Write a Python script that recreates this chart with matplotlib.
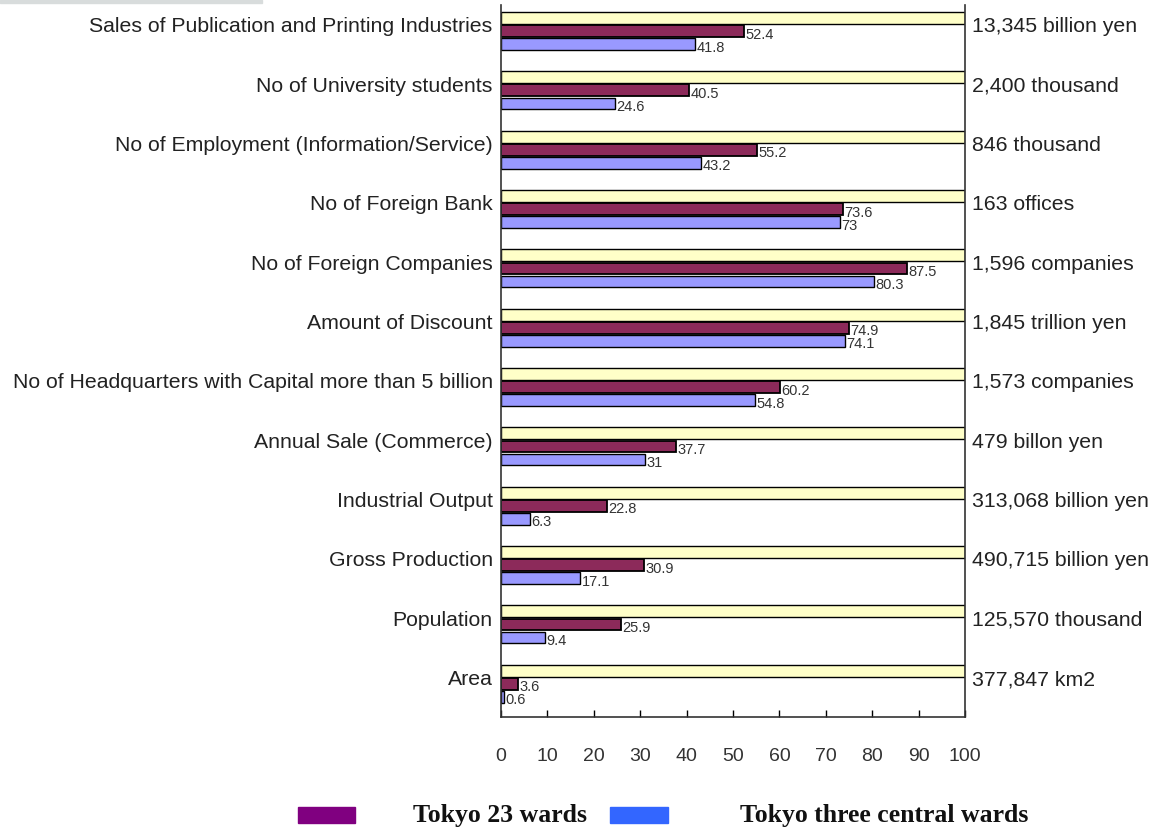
import matplotlib
matplotlib.use("Agg")
import matplotlib.pyplot as plt
from matplotlib.patches import Rectangle
import numpy as np

categories = [
    "Sales of Publication and Printing Industries",
    "No of University students",
    "No of Employment (Information/Service)",
    "No of Foreign Bank",
    "No of Foreign Companies",
    "Amount of Discount",
    "No of Headquarters with Capital more than 5 billion",
    "Annual Sale (Commerce)",
    "Industrial Output",
    "Gross Production",
    "Population",
    "Area",
]
totals = [
    "13,345 billion yen",
    "2,400 thousand",
    "846 thousand",
    "163 offices",
    "1,596 companies",
    "1,845 trillion yen",
    "1,573 companies",
    "479 billon yen",
    "313,068 billion yen",
    "490,715 billion yen",
    "125,570 thousand",
    "377,847 km2",
]
japan = [100] * 12
wards23 = [52.4, 40.5, 55.2, 73.6, 87.5, 74.9, 60.2, 37.7, 22.8, 30.9, 25.9, 3.6]
central3 = [41.8, 24.6, 43.2, 73, 80.3, 74.1, 54.8, 31, 6.3, 17.1, 9.4, 0.6]
xticks = list(range(0, 101, 10))

fig = plt.figure(figsize=(11.52, 8.30), dpi=100)
ax = fig.add_axes([0.4349, 0.1361, 0.4028, 0.8579])

y = np.arange(len(categories))
h = 0.2
ax.barh(y - 0.28, japan, height=h, color="#FFFFC8", edgecolor="black", linewidth=1)
ax.barh(y - 0.06, wards23, height=h, color="#8C2A5A", edgecolor="black", linewidth=1.3)
ax.barh(y + 0.16, central3, height=h, color="#9999FF", edgecolor="black", linewidth=1)

for i in range(len(categories)):
    ax.text(wards23[i] + 0.3, y[i] + 0.0, f"{wards23[i]:g}", fontsize=10.5,
            family="Liberation Sans", va="center", ha="left", color="#333333")
    ax.text(central3[i] + 0.3, y[i] + 0.22, f"{central3[i]:g}", fontsize=10.5,
            family="Liberation Sans", va="center", ha="left", color="#333333")
    ax.text(-1.8, y[i] - 0.13, categories[i], fontsize=15.3, family="Liberation Sans",
            ha="right", va="center", color="#222222")
    ax.text(101.5, y[i] - 0.13, totals[i], fontsize=15.3, family="Liberation Sans",
            ha="left", va="center", color="#222222")

ax.set_xlim(0, 100)
ax.set_ylim(len(categories) - 0.5, -0.5)
ax.set_yticks([])
ax.set_xticks(xticks)
ax.set_xticklabels([str(t) for t in xticks], family="Liberation Sans", fontsize=14,
                   color="#333333")
ax.tick_params(axis="x", direction="in", length=5, pad=22, width=1)
ax.spines["top"].set_visible(False)
for s in ["left", "right", "bottom"]:
    ax.spines[s].set_color("#333333")
    ax.spines[s].set_linewidth(1.2)

# legend along the bottom
fig.patches.append(Rectangle((298 / 1152, 1 - 823 / 830), 57 / 1152, 16 / 830,
                             transform=fig.transFigure, color="#800080"))
fig.patches.append(Rectangle((610 / 1152, 1 - 823 / 830), 58 / 1152, 16 / 830,
                             transform=fig.transFigure, color="#3366FF"))
fig.text(413 / 1152, 1 - 815 / 830, "Tokyo 23 wards", family="Liberation Serif",
         fontweight="bold", fontsize=18.5, va="center", ha="left", color="#111111")
fig.text(740 / 1152, 1 - 815 / 830, "Tokyo three central wards", family="Liberation Serif",
         fontweight="bold", fontsize=18.5, va="center", ha="left", color="#111111")

# faint grey strip in the top left corner
fig.patches.append(Rectangle((0, 1 - 3 / 830), 262 / 1152, 3 / 830,
                             transform=fig.transFigure, color="#D8DCDC"))

fig.savefig("out.png", dpi=100)
